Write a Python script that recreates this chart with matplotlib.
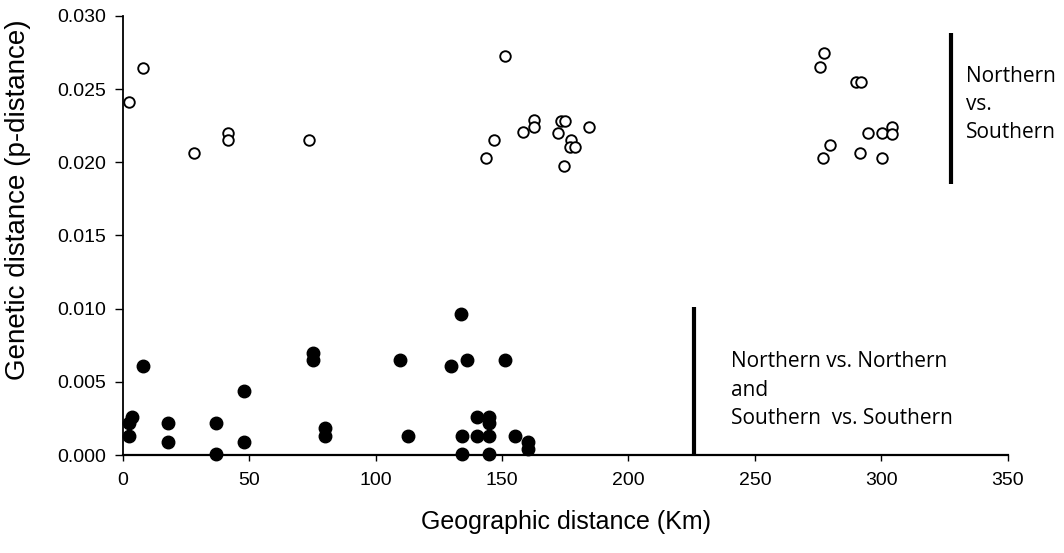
import matplotlib
matplotlib.use("Agg")
from matplotlib import pyplot as plt

# Northern vs. Southern (open circles)
ns_km = [8.1, 2.6, 28.3, 41.8, 41.8, 73.8,
         151.2, 146.9, 143.7, 158.4, 162.8, 162.8, 172.2, 173.2, 174.9, 184.4,
         177.3, 176.9, 179.0, 174.6,
         277.4, 275.7, 290.2, 291.9, 279.6, 277.0, 291.6, 300.4, 294.8, 300.1,
         304.1, 304.1]
ns_pd = [0.02643, 0.02412, 0.02062, 0.02203, 0.02153, 0.02153,
         0.02729, 0.02153, 0.02028, 0.02205, 0.02289, 0.02240, 0.02203, 0.02285,
         0.02285, 0.02244, 0.02153, 0.02107, 0.02107, 0.01975,
         0.02749, 0.02654, 0.02551, 0.02551, 0.02119, 0.02028, 0.02062, 0.02028,
         0.02199, 0.02203, 0.02244, 0.02194]

# Northern vs. Northern and Southern vs. Southern (filled circles)
same_km = [8.1, 3.8, 2.6, 2.6, 18.0, 18.0, 36.8, 36.8, 48.0, 48.0,
           75.4, 75.4, 80.0, 80.0, 109.6, 112.9, 129.7, 133.6, 136.0,
           134.3, 134.3, 140.0, 140.0, 151.2, 145.0, 145.0, 145.0, 145.0,
           155.1, 160.4, 160.4]
same_pd = [0.00608, 0.00262, 0.00217, 0.00130, 0.00217, 0.00087, 0.00217, 0.00005,
           0.00435, 0.00087,
           0.00695, 0.00649, 0.00182, 0.00132, 0.00649, 0.00132, 0.00608, 0.00964,
           0.00649, 0.00132, 0.00005, 0.00262, 0.00132, 0.00649, 0.00262, 0.00217,
           0.00132, 0.00005, 0.00132, 0.00091, 0.00039]

xticks = [0, 50, 100, 150, 200, 250, 300, 350]
yticks = [0.000, 0.005, 0.010, 0.015, 0.020, 0.025, 0.030]

fig = plt.figure(figsize=(10.64, 5.53), dpi=100)
ax = fig.add_axes([0.1153, 0.1772, 0.8318, 0.7939])

ax.plot(ns_km, ns_pd, "o", ms=7.6, mfc="white", mec="black", mew=1.35, clip_on=False)
ax.plot(same_km, same_pd, "o", ms=9, mfc="black", mec="black", clip_on=False)

# group brackets
ax.plot([327.4, 327.4], [0.01852, 0.02884], color="black", lw=3, solid_capstyle="butt")
ax.plot([225.9, 225.9], [0.0, 0.01013], color="black", lw=3, solid_capstyle="butt")

ax.text(333.5, 0.02395, "Northern\nvs.\nSouthern", fontsize=15, family="Open Sans",
        va="center", ha="left", linespacing=1.45)
ax.text(240.4, 0.00444, "Northern vs. Northern\nand\nSouthern  vs. Southern", fontsize=15,
        family="Open Sans", va="center", ha="left", linespacing=1.48)

ax.set_xlim(0, 350)
ax.set_ylim(0, 0.030)
ax.set_xticks(xticks)
ax.set_yticks(yticks)
ax.set_yticklabels(["%.3f" % v for v in yticks])

for s in ["top", "right"]:
    ax.spines[s].set_visible(False)
ax.spines["left"].set_linewidth(1.3)
ax.spines["bottom"].set_linewidth(1.6)
ax.tick_params(axis="y", direction="out", length=6, width=1, labelsize=14, pad=6)
ax.tick_params(axis="x", direction="out", length=4, width=1, labelsize=14, pad=8)
for lab in ax.get_xticklabels() + ax.get_yticklabels():
    lab.set_family("Liberation Sans")

fig.text(566 / 1064, 1 - 522 / 553, "Geographic distance (Km)", fontsize=18,
         family="Liberation Sans", ha="center", va="center")
fig.text(18 / 1064, 1 - 200 / 553, "Genetic distance (p-distance)", fontsize=20,
         family="Liberation Sans", ha="center", va="center", rotation=90)

fig.savefig("out.png", dpi=100)
